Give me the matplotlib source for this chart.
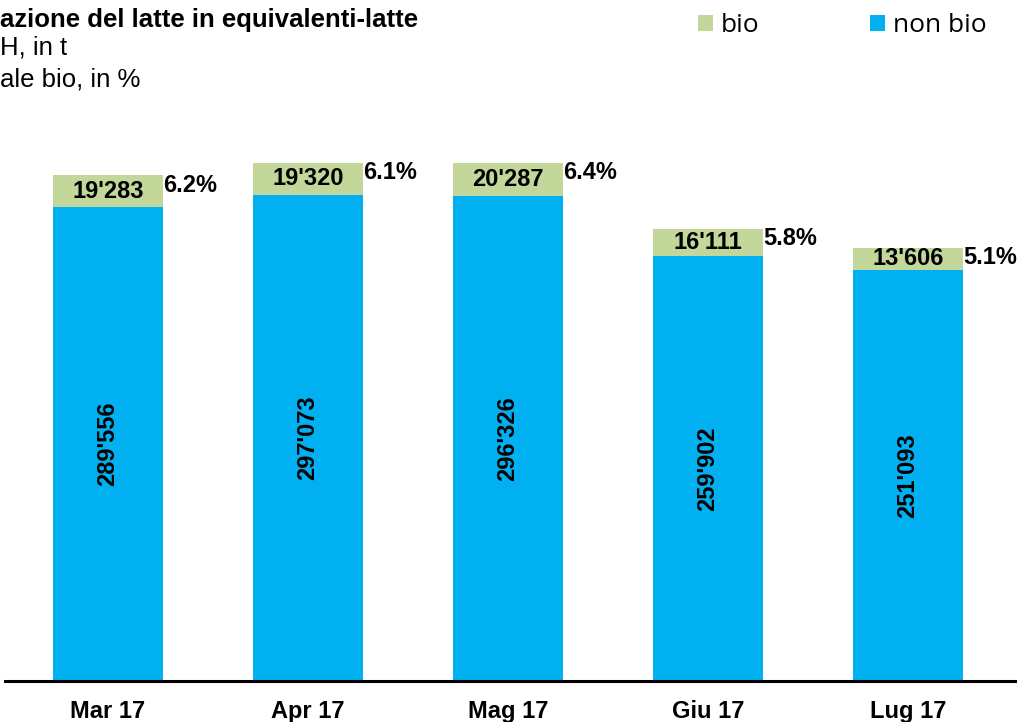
import matplotlib.pyplot as plt

months = ["Mar 17", "Apr 17", "Mag 17", "Giu 17", "Lug 17"]
non_bio = [289556, 297073, 296326, 259902, 251093]
bio = [19283, 19320, 20287, 16111, 13606]

blue = "#00B0F0"
green = "#C4D79B"
plt.rcParams['font.family'] = ['Liberation Sans', 'DejaVu Sans']

fig = plt.figure(figsize=(10.19, 7.22), dpi=100)
ax = fig.add_axes([5 / 1019, 41 / 722, 1010 / 1019, 573 / 722])

x = range(len(months))
w = 0.55
b1 = ax.bar(x, non_bio, w, color=blue, label="non bio")
b2 = ax.bar(x, bio, w, bottom=non_bio, color=green, label="bio")

def fmt(v):
    return f"{v:,}".replace(",", "'")

for i in x:
    total = non_bio[i] + bio[i]
    ax.text(i, non_bio[i] / 2, fmt(non_bio[i]), rotation=90, ha='center', va='center',
            fontsize=17, fontweight='bold')
    ax.text(i, non_bio[i] + bio[i] / 2, fmt(bio[i]), ha='center', va='center',
            fontsize=17, fontweight='bold')
    pct = bio[i] / total * 100
    ax.annotate(f"{pct:.1f}%", (i + w / 2, total), xytext=(0, -7), textcoords='offset points',
                ha='left', va='center', fontsize=17, fontweight='bold')

ax.set_xlim(-0.515, 4.535)
ax.set_ylim(0, 350000)
for s in ['top', 'right', 'left']:
    ax.spines[s].set_visible(False)
ax.spines['bottom'].set_linewidth(2.2)
ax.set_yticks([])
ax.set_xticks(list(x))
ax.set_xticklabels(months, fontsize=17, fontweight='bold')
ax.tick_params(axis='x', length=0, pad=14)

fig.text(0, 1 - 20 / 722, "azione del latte in equivalenti-latte", fontsize=18.5,
         fontweight='bold', va='center', ha='left')
fig.text(0, 1 - 47 / 722, "H, in t", fontsize=18.5, va='center', ha='left')
fig.text(0, 1 - 80 / 722, "ale bio, in %", fontsize=18.5, va='center', ha='left')

fig.legend(handles=[b2, b1], loc='upper left', bbox_to_anchor=(685 / 1019, 1.0),
           ncol=2, frameon=False, borderpad=0, handlelength=0.55, handleheight=0.55,
           handletextpad=0.3, columnspacing=4.2, prop={'family': 'Open Sans', 'size': 19})

fig.savefig("out.png", dpi=100)
